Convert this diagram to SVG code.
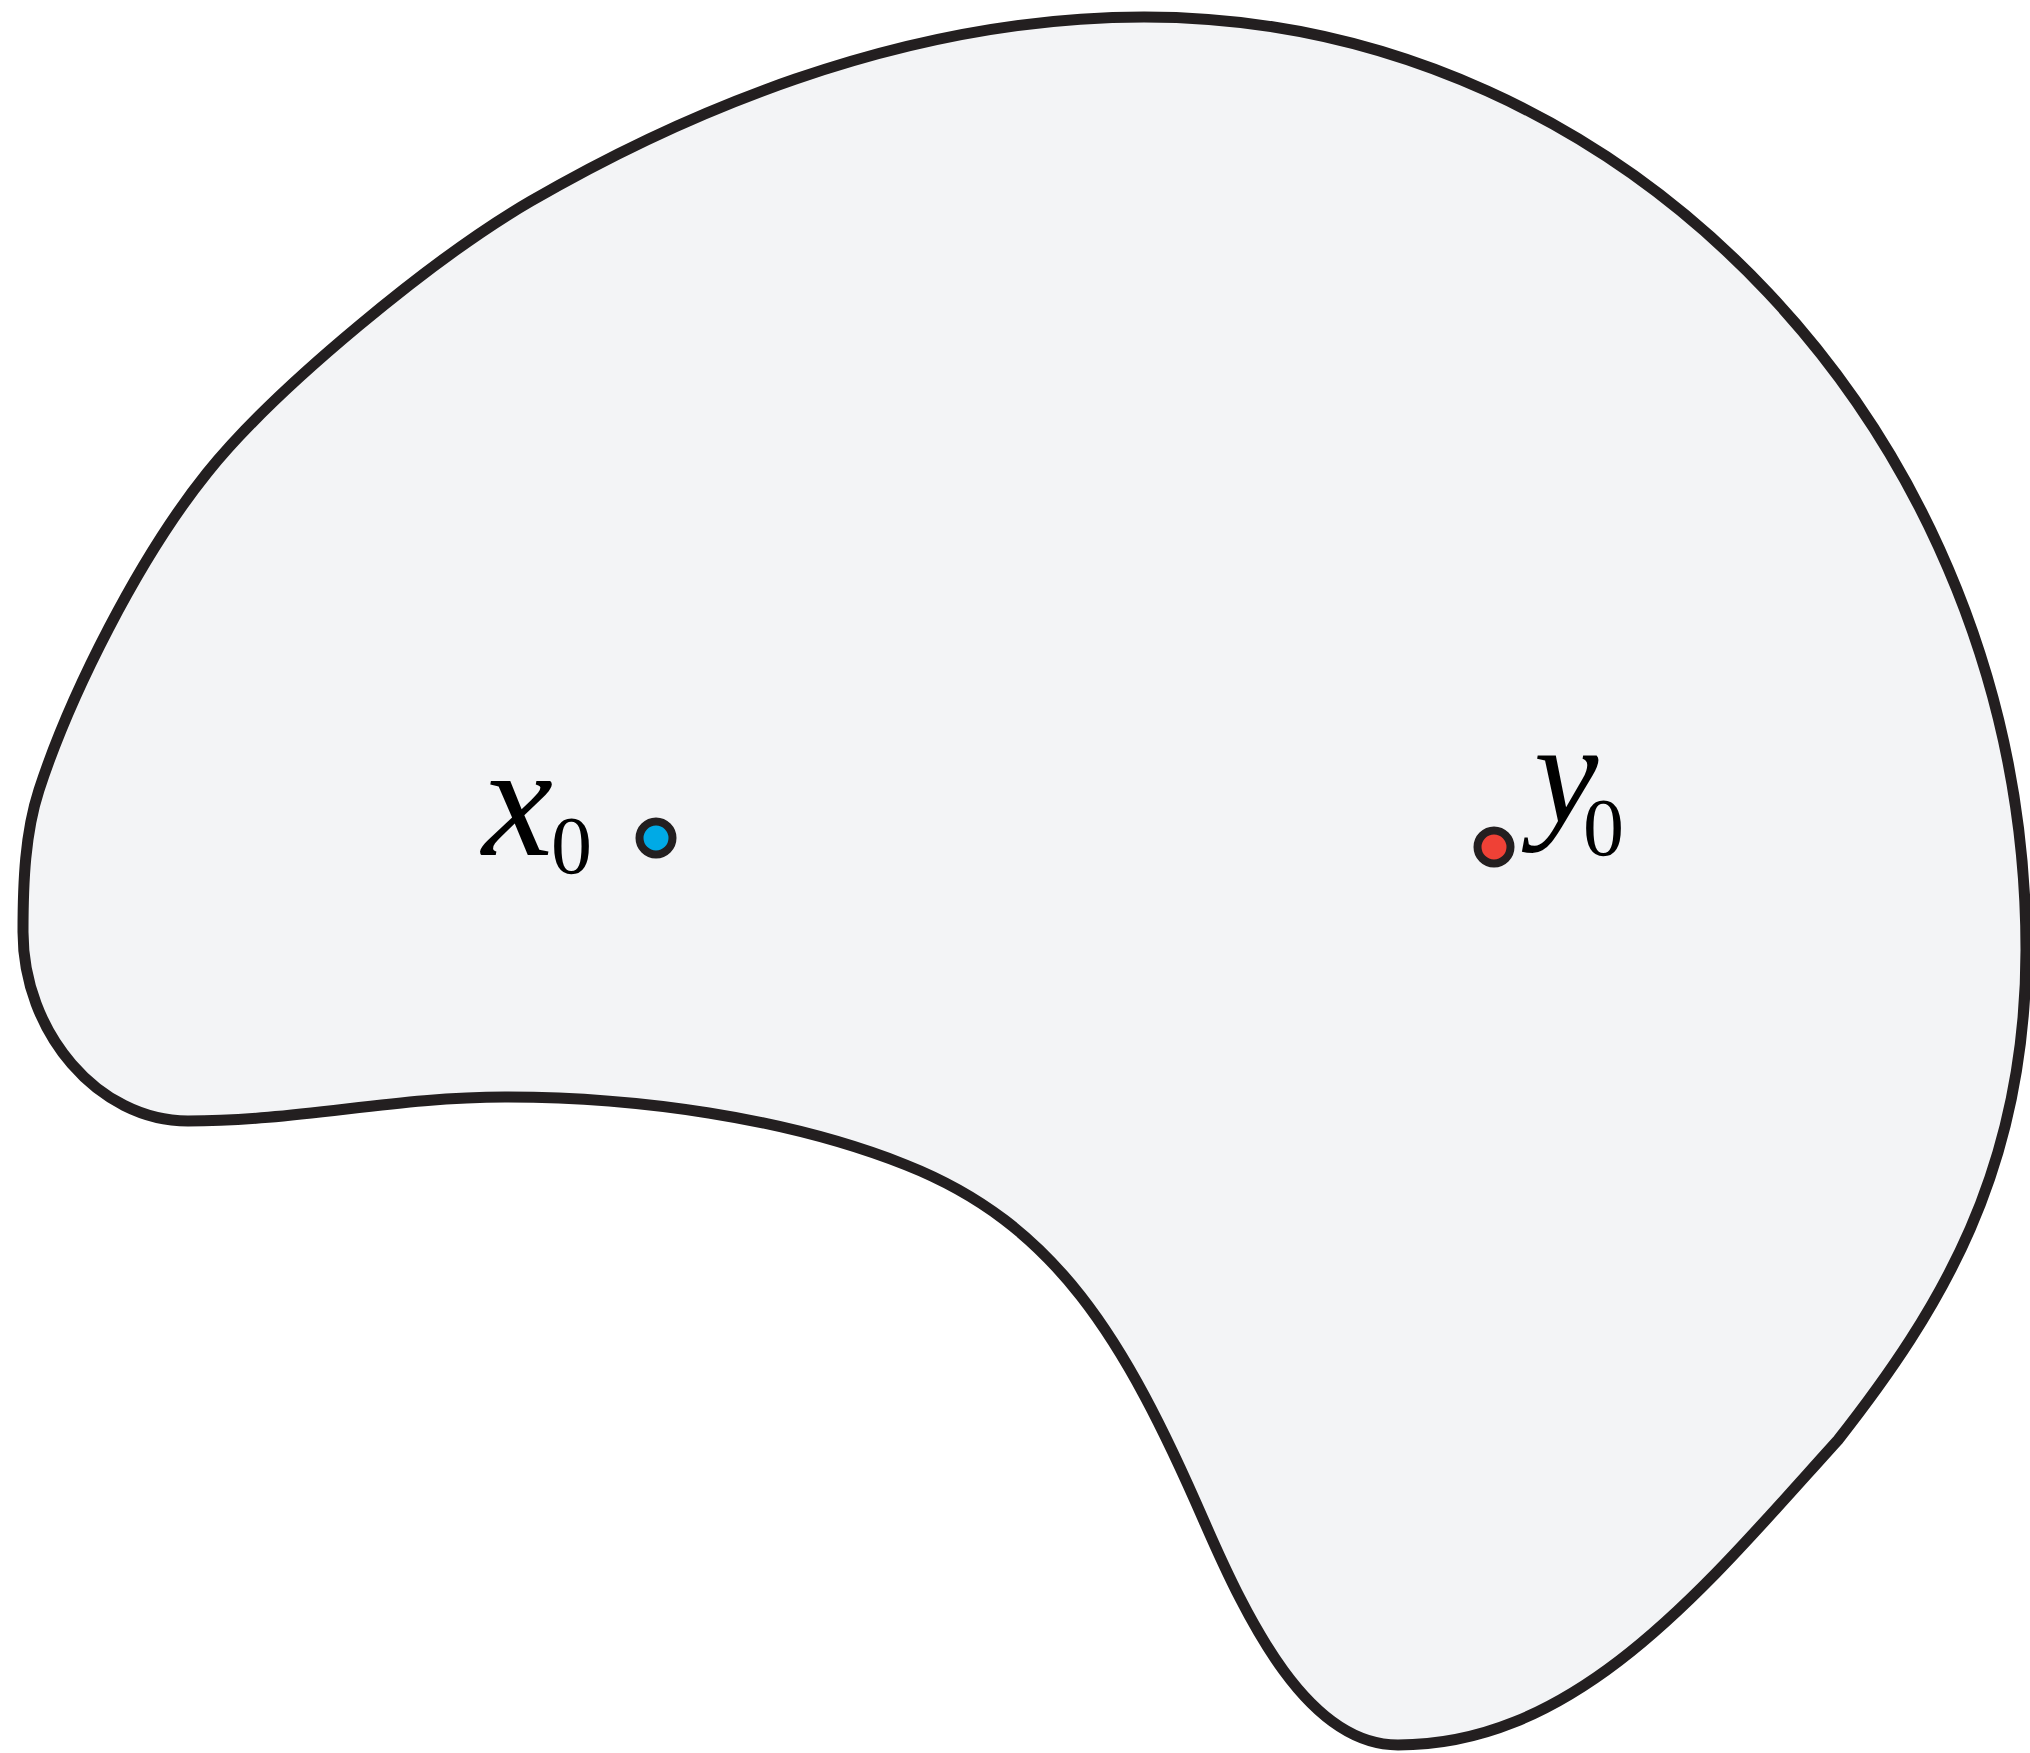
<svg xmlns="http://www.w3.org/2000/svg" width="2030" height="1753" viewBox="0 0 2030 1753">
<style>
.region{fill:#f3f4f6;stroke:#231f20;stroke-width:11;stroke-linejoin:round}
.pt{stroke:#231f20;stroke-width:8}
.lbl{font-family:"Liberation Serif","Times New Roman",serif;fill:#000}
.it{font-style:italic}
</style>
<rect width="2030" height="1753" fill="#ffffff"/>
<g id="region">
<path class="region" d="M1144,17 C1631,17 2026,440 2026,950 C2026,1170 1940,1310 1838,1440 C1704,1588 1578,1745 1398,1745 C1308,1745 1248,1622 1204,1521 C1124,1337 1055,1224 906,1165 C785,1117 635,1097 505,1097 C395,1097 298,1121 188,1121 C98,1121 23,1032 23,932 C23,882 25,833 39,790 C70,695 138,559 207,473 C276,387 436,256 531,201 C669,121 894,17 1144,17 Z"/>
</g>
<g id="connectors"></g>
<g id="x0">
<circle class="pt" cx="656" cy="838" r="16.5" fill="#00aae6"/>
<text class="lbl it" x="482" y="855" font-size="160">x</text>
<text class="lbl" x="551" y="873" font-size="82">0</text>
</g>
<g id="y0">
<circle class="pt" cx="1494" cy="847" r="16.5" fill="#ef4136"/>
<text class="lbl it" x="1534" y="822" font-size="145">y</text>
<text class="lbl" x="1583" y="855" font-size="82">0</text>
</g>
</svg>
